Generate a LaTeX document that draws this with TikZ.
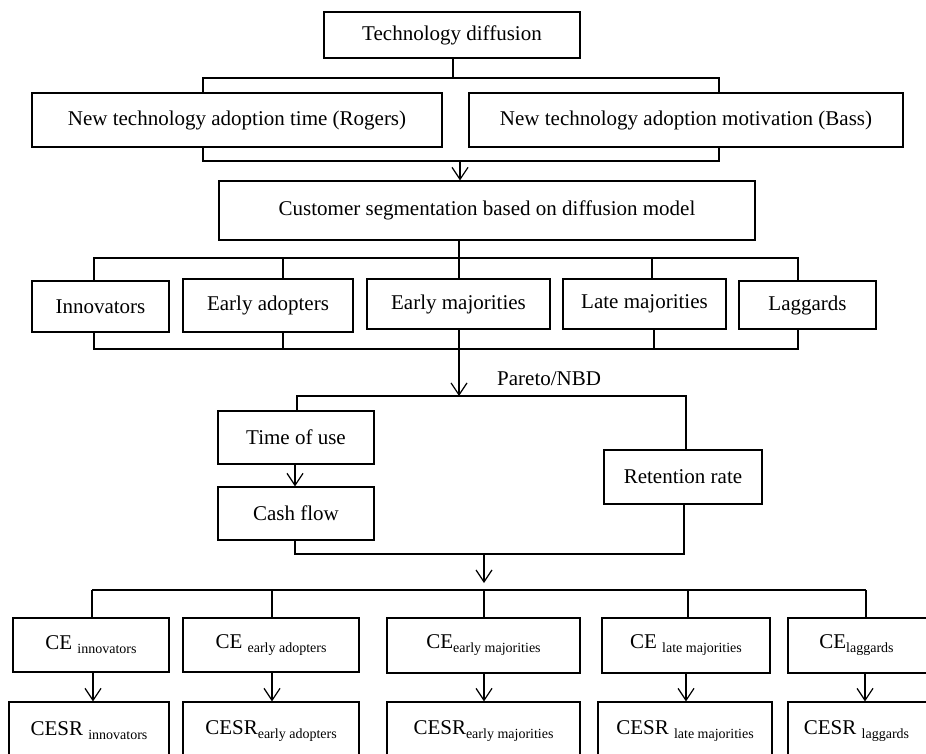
\documentclass[tikz,border=0pt]{standalone}
\usepackage{fontspec}
\setmainfont{Liberation Serif}
\usetikzlibrary{arrows.meta}
\tikzset{
  box/.style={draw, line width=1.2pt, inner sep=0pt, font=\fontsize{21}{25}\selectfont, align=center},
  conn/.style={line width=1.2pt},
  arr/.style={line width=1.2pt, -{Straight Barb[length=12pt,width=16pt,line width=1.2pt]}},
  lbl/.style={font=\fontsize{21}{25}\selectfont, inner sep=0pt, anchor=west},
}
\newcommand\drawbox[6]{\node[box, minimum width={(#4-#2)*1pt}, minimum height={(#5-#3)*1pt}] (#1) at ({(#2+#4)/2},{(#3+#5)/2}) {#6};}
\newcommand\lowsub[1]{{\fontsize{14}{14}\selectfont\raisebox{-4pt}{#1}}}
\begin{document}
\begin{tikzpicture}[x=1pt,y=-1pt]
\useasboundingbox (0,0) rectangle (926,753);
\clip (0,0) rectangle (926,753);
% boxes
\drawbox{tech}{324}{12}{580}{58}{Technology diffusion}
\drawbox{rogers}{32}{93}{442}{147}{New technology adoption time (Rogers)}
\drawbox{bass}{469}{93}{903}{147}{New technology adoption motivation (Bass)}
\drawbox{cust}{219}{181}{755}{240}{Customer segmentation based on diffusion model}
\drawbox{inn}{32}{281}{169}{332}{Innovators}
\drawbox{ea}{183}{279}{353}{332}{Early adopters}
\drawbox{em}{367}{279}{550}{329}{Early majorities}
\drawbox{lm}{563}{279}{726}{329}{Late majorities}
\drawbox{lag}{739}{281}{876}{329}{Laggards}
\drawbox{tou}{218}{411}{374}{464}{Time of use}
\drawbox{cf}{218}{487}{374}{540}{Cash flow}
\drawbox{ret}{604}{450}{762}{504}{Retention rate}
\drawbox{ce1}{13}{618}{169}{672}{CE \lowsub{innovators}}
\drawbox{ce2}{183}{618}{359}{672}{CE \lowsub{early adopters}}
\drawbox{ce3}{387}{618}{580}{673}{CE\lowsub{early majorities}}
\drawbox{ce4}{602}{618}{770}{673}{CE \lowsub{late majorities}}
\drawbox{ce5}{788}{618}{935}{673}{\hspace*{-10pt}CE\lowsub{laggards}}
\drawbox{cesr1}{9}{702}{169}{760}{CESR \lowsub{innovators}}
\drawbox{cesr2}{183}{702}{359}{760}{CESR\lowsub{early adopters}}
\drawbox{cesr3}{387}{702}{580}{760}{CESR\lowsub{early majorities}}
\drawbox{cesr4}{598}{702}{772}{760}{CESR \lowsub{late majorities}}
\drawbox{cesr5}{788}{702}{935}{760}{\hspace*{-10pt}CESR \lowsub{laggards}}
% bus coordinates
\coordinate (b1) at (453,78);
\coordinate (b1l) at (203,78);
\coordinate (b1r) at (719,78);
\coordinate (b2l) at (203,161);
\coordinate (b2r) at (719,161);
\coordinate (b2m) at (460,161);
\coordinate (b3) at (459,258);
\coordinate (b3l) at (94,258);
\coordinate (b3r) at (798,258);
\coordinate (b4l) at (94,349);
\coordinate (b4r) at (798,349);
\coordinate (b4m) at (459,349);
\coordinate (b5m) at (459,396);
\coordinate (b5l) at (297,396);
\coordinate (b5r) at (686,396);
\coordinate (b6l) at (295,554);
\coordinate (b6r) at (684,554);
\coordinate (b6m) at (484,554);
\coordinate (b6t) at (484,583);
\coordinate (b7l) at (92,590);
\coordinate (b7r) at (866,590);
% top
\draw[conn] (tech.south -| b1) -- (b1);
\draw[conn] (rogers.north -| b1l) -- (b1l) -- (b1r) -- (bass.north -| b1r);
\draw[conn] (rogers.south -| b2l) -- (b2l) -- (b2r) -- (bass.south -| b2r);
\draw[arr] (b2m) -- (cust.north -| b2m);
% segments
\draw[conn] (cust.south -| b3) -- (b3);
\draw[conn] (inn.north -| b3l) -- (b3l) -- (b3r) -- (lag.north -| b3r);
\draw[conn] (ea.north -| 283,0) -- (283,258);
\draw[conn] (em.north -| b3) -- (b3);
\draw[conn] (lm.north -| 652,0) -- (652,258);
\draw[conn] (inn.south -| b4l) -- (b4l) -- (b4r) -- (lag.south -| b4r);
\draw[conn] (ea.south -| 283,0) -- (283,349);
\draw[conn] (em.south -| b4m) -- (b4m);
\draw[conn] (lm.south -| 654,0) -- (654,349);
\draw[arr] (b4m) -- (b5m);
\node[lbl] (pareto) at (497,379) {Pareto/NBD};
% pareto branch
\draw[conn] (tou.north -| b5l) -- (b5l) -- (b5r) -- (ret.north -| b5r);
\draw[arr] (tou.south -| 295,0) -- (cf.north -| 295,0);
\draw[conn] (cf.south -| b6l) -- (b6l) -- (b6r) -- (ret.south -| b6r);
\draw[arr] (b6m) -- (b6t);
% CE bus
\draw[conn] (b7l) -- (b7r);
\draw[conn] (b7l) -- (ce1.north -| b7l);
\draw[conn] (272,590) -- (ce2.north -| 272,0);
\draw[conn] (484,590) -- (ce3.north -| 484,0);
\draw[conn] (688,590) -- (ce4.north -| 688,0);
\draw[conn] (b7r) -- (ce5.north -| b7r);
% CE -> CESR
\draw[arr] (ce1.south -| 93,0) -- (cesr1.north -| 93,0);
\draw[arr] (ce2.south -| 272,0) -- (cesr2.north -| 272,0);
\draw[arr] (ce3.south -| 484,0) -- (cesr3.north -| 484,0);
\draw[arr] (ce4.south -| 686,0) -- (cesr4.north -| 686,0);
\draw[arr] (ce5.south -| 865,0) -- (cesr5.north -| 865,0);
\end{tikzpicture}
\end{document}
